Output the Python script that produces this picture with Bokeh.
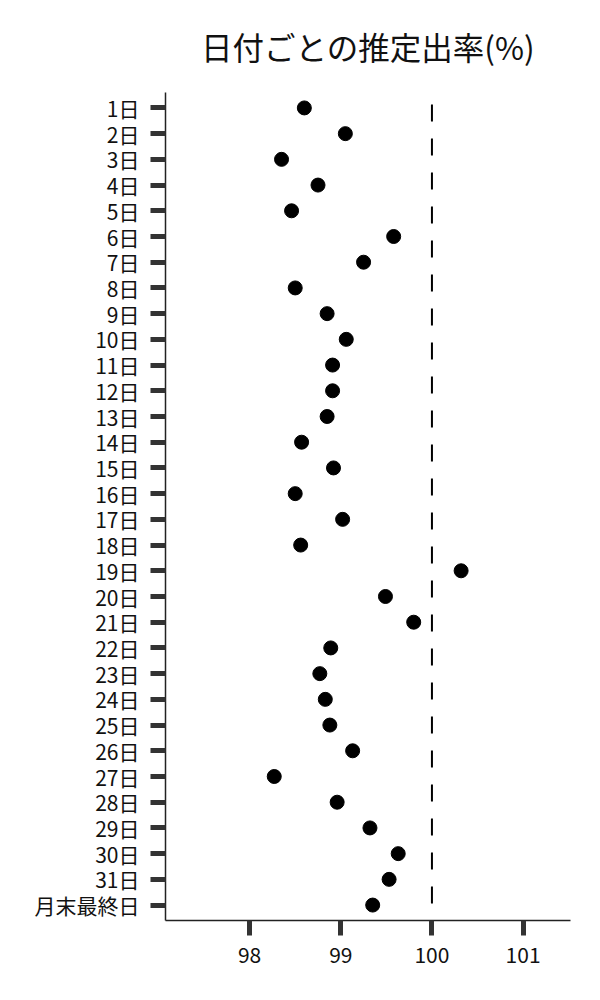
from bokeh.plotting import figure
from bokeh.models import FactorRange, Range1d, FixedTicker, Span, ColumnDataSource
from bokeh.embed import file_html
from bokeh.resources import INLINE

days = [f"{i}日" for i in range(1, 32)] + ["月末最終日"]
rates = [98.60, 99.05, 98.35, 98.75, 98.46, 99.58, 99.25, 98.50, 98.85, 99.06,
         98.91, 98.91, 98.85, 98.57, 98.92, 98.50, 99.02, 98.56, 100.32, 99.49,
         99.80, 98.89, 98.77, 98.83, 98.88, 99.13, 98.27, 98.96, 99.32, 99.63,
         99.53, 99.35]
x_ticks = [98, 99, 100, 101]
reference_value = 100
title_text = "日付ごとの推定出率(%)"

FONT = "Noto Sans CJK JP"

source = ColumnDataSource(dict(day=days, rate=rates))

p = figure(
    width=592, height=992,
    y_range=FactorRange(factors=list(reversed(days)), range_padding=0.1,
                        range_padding_units="absolute"),
    x_range=Range1d(97.077, 101.52),
    output_backend="svg", toolbar_location=None,
    min_border_left=165, min_border_right=22, min_border_top=92, min_border_bottom=72,
    title=title_text,
)
p.title.text_font = FONT
p.title.text_font_size = "31.5px"
p.title.text_font_style = "normal"
p.title.align = "center"
p.title.vertical_align = "top"
p.title.text_color = "#111111"
p.title.standoff = 44

p.outline_line_color = None
p.xgrid.visible = False
p.ygrid.visible = False

for ax in (p.xaxis[0], p.yaxis[0]):
    ax.axis_line_color = "#222222"
    ax.axis_line_width = 1.5
    ax.major_tick_line_color = "#333333"
    ax.major_tick_line_width = 5
    ax.major_tick_out = 15
    ax.major_tick_in = 0
    ax.minor_tick_line_color = None
    ax.major_label_text_font = FONT
    ax.major_label_text_font_size = "21px"
    ax.major_label_text_color = "#111111"

p.xaxis[0].ticker = FixedTicker(ticks=x_ticks)
p.xaxis[0].major_label_standoff = 11
p.yaxis[0].major_label_standoff = 11

vline = Span(location=reference_value, dimension="height", line_color="black",
             line_width=2, line_dash="17 17", line_dash_offset=22)
p.add_layout(vline)

p.scatter(x="rate", y="day", source=source, size=14, color="black")

open("out.html", "w").write(file_html(p, INLINE))
